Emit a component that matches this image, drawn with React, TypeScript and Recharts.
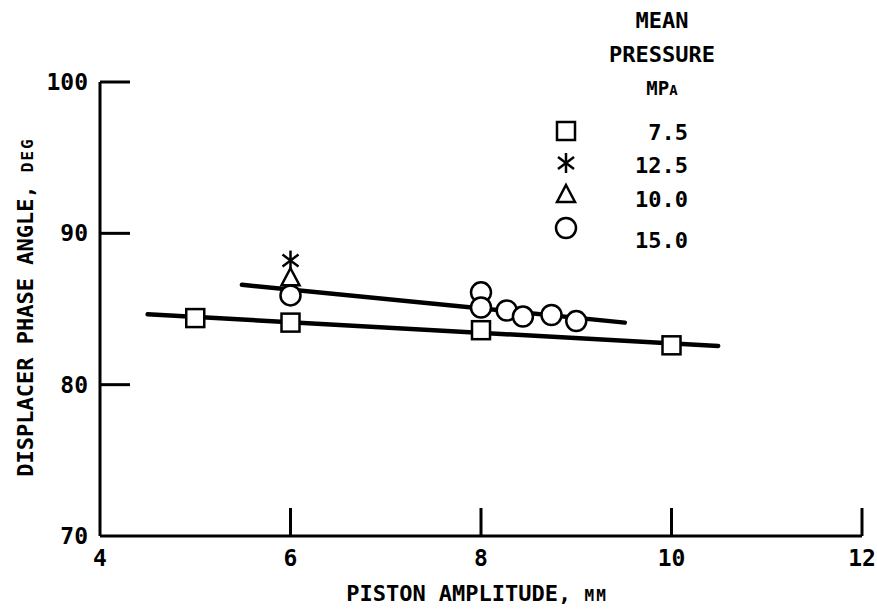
import React from 'react'
import { ScatterChart, Scatter, XAxis, YAxis } from 'recharts'

// piston amplitude (mm) vs displacer phase angle (deg), by mean pressure
const p75Amp = [5, 6, 8, 10]
const p75Phase = [84.4, 84.1, 83.6, 82.6]
const p125Amp = [6]
const p125Phase = [88.2]
const p100Amp = [6]
const p100Phase = [87.1]
const p150Amp = [6, 8, 8, 8.27, 8.44, 8.74, 9.0]
const p150Phase = [85.9, 86.1, 85.1, 84.9, 84.5, 84.6, 84.2]

// fitted lines (end points)
const upperFitAmp = [5.49, 9.51]
const upperFitPhase = [86.6, 84.1]
const lowerFitAmp = [4.5, 10.49]
const lowerFitPhase = [84.65, 82.56]

const xTicks = [4, 6, 8, 10, 12]
const yTicks = [70, 80, 90, 100]

const legendLabels = ['7.5', '12.5', '10.0', '15.0']

const FONT = "'DejaVu Sans Mono', monospace"
const INK = '#000'

const zip = (xs: number[], ys: number[]) => xs.map((x, i) => ({ x, y: ys[i] }))

const Square = ({ cx, cy }: any) => (
  <rect x={cx - 9} y={cy - 9} width={18} height={18} fill="#fff" stroke={INK} strokeWidth={2.5} />
)
const Circle = ({ cx, cy }: any) => (
  <circle cx={cx} cy={cy} r={10} fill="#fff" stroke={INK} strokeWidth={2.5} />
)
const Triangle = ({ cx, cy }: any) => (
  <polygon
    points={`${cx},${cy - 9} ${cx + 9},${cy + 8} ${cx - 9},${cy + 8}`}
    fill="#fff"
    stroke={INK}
    strokeWidth={2.5}
  />
)
const Asterisk = ({ cx, cy }: any) => (
  <g stroke={INK} strokeWidth={2.5}>
    <line x1={cx} y1={cy - 10} x2={cx} y2={cy + 10} />
    <line x1={cx - 8} y1={cy - 6} x2={cx + 8} y2={cy + 6} />
    <line x1={cx + 8} y1={cy - 6} x2={cx - 8} y2={cy + 6} />
  </g>
)
const NoDot = () => <g />

const XTick = ({ x, y, payload }: any) => (
  <g>
    {payload.value !== 4 && <line x1={x} y1={y} x2={x} y2={y - 28} stroke={INK} strokeWidth={3} />}
    <text x={x} y={y + 30} textAnchor="middle" fontFamily={FONT} fontWeight="bold" fontSize={23} fill={INK}>
      {payload.value}
    </text>
  </g>
)

const YTick = ({ x, y, payload }: any) => (
  <g>
    {payload.value !== 70 && <line x1={x} y1={y} x2={x + 30} y2={y} stroke={INK} strokeWidth={3} />}
    <text x={x - 12} y={y + 8} textAnchor="end" fontFamily={FONT} fontWeight="bold" fontSize={23} fill={INK}>
      {payload.value}
    </text>
  </g>
)

const legendShapes = [Square, Asterisk, Triangle, Circle]
const legendSymbolY = [131, 163, 194, 228]
const legendTextY = [140, 173, 207, 248]

export default function App() {
  return (
    <div style={{ position: 'absolute', left: 0, top: 0, width: 877, height: 611, background: '#fff' }}>
      <ScatterChart width={877} height={611} margin={{ top: 82, right: 15, left: 40, bottom: 45 }}>
        <XAxis
          type="number"
          dataKey="x"
          domain={[4, 12]}
          ticks={xTicks}
          allowDataOverflow
          height={30}
          tickSize={0}
          tickMargin={0}
          tick={<XTick />}
          axisLine={{ stroke: INK, strokeWidth: 3 }}
        />
        <YAxis
          type="number"
          dataKey="y"
          domain={[70, 100]}
          ticks={yTicks}
          allowDataOverflow
          width={60}
          tickSize={0}
          tickMargin={0}
          tick={<YTick />}
          axisLine={{ stroke: INK, strokeWidth: 3 }}
        />
        <Scatter data={zip(lowerFitAmp, lowerFitPhase)} line={{ stroke: INK, strokeWidth: 4.5, strokeLinecap: 'round' }} shape={NoDot} isAnimationActive={false} />
        <Scatter data={zip(upperFitAmp, upperFitPhase)} line={{ stroke: INK, strokeWidth: 4.5, strokeLinecap: 'round' }} shape={NoDot} isAnimationActive={false} />
        <Scatter data={zip(p75Amp, p75Phase)} shape={Square} isAnimationActive={false} />
        <Scatter data={zip(p150Amp, p150Phase)} shape={Circle} isAnimationActive={false} />
        <Scatter data={zip(p100Amp, p100Phase)} shape={Triangle} isAnimationActive={false} />
        <Scatter data={zip(p125Amp, p125Phase)} shape={Asterisk} isAnimationActive={false} />
      </ScatterChart>
      <svg
        width={877}
        height={611}
        style={{ position: 'absolute', left: 0, top: 0, pointerEvents: 'none' }}
        fontFamily={FONT}
        fontWeight="bold"
        fill={INK}
      >
        <text x={477} y={601} textAnchor="middle" fontSize={22}>
          PISTON AMPLITUDE, <tspan fontSize={16} letterSpacing={2}>MM</tspan>
        </text>
        <text x={0} y={0} transform="translate(33 307) rotate(-90)" textAnchor="middle" fontSize={22}>
          DISPLACER PHASE ANGLE, <tspan fontSize={16} letterSpacing={2}>DEG</tspan>
        </text>
        <text x={662} y={28} textAnchor="middle" fontSize={22}>MEAN</text>
        <text x={662} y={62} textAnchor="middle" fontSize={22}>PRESSURE</text>
        <text x={662} y={95} textAnchor="middle" fontSize={19}>
          MP<tspan fontSize={14}>A</tspan>
        </text>
        {legendLabels.map((label, i) => {
          const Shape = legendShapes[i]
          return (
            <g key={label}>
              <Shape cx={566} cy={legendSymbolY[i]} />
              <text x={688} y={legendTextY[i]} textAnchor="end" fontSize={22}>
                {label}
              </text>
            </g>
          )
        })}
      </svg>
    </div>
  )
}
